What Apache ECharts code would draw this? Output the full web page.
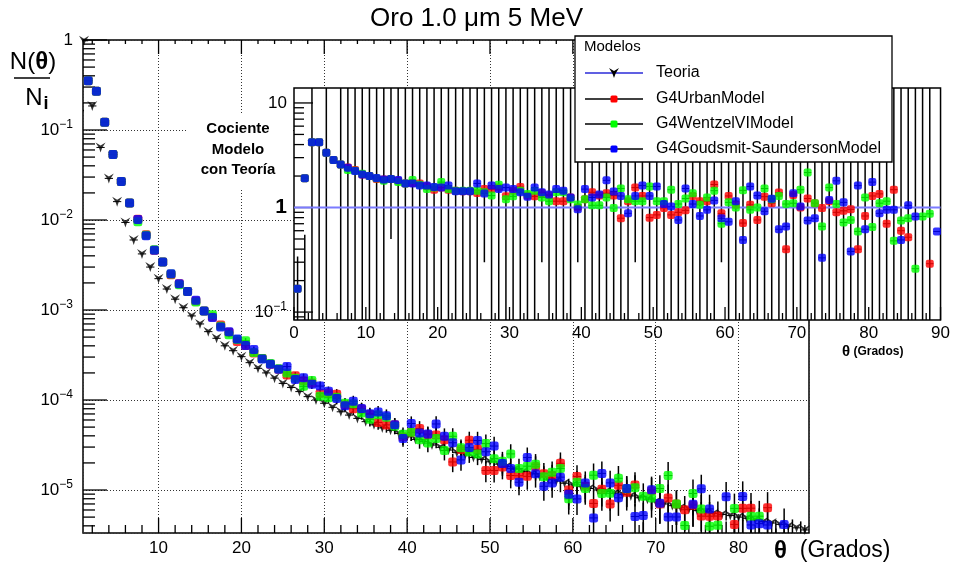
<!DOCTYPE html>
<html>
<head>
<meta charset="utf-8">
<script src="https://cdn.jsdelivr.net/npm/echarts@6/dist/echarts.min.js"></script>
<style>
html,body{margin:0;padding:0;background:#fff;}
#chart{width:953px;height:565px;}
</style>
</head>
<body>
<div id="chart"></div>
<script>
// Angular distribution of 5 MeV electrons after 1.0 μm of gold:
// theory vs. three Geant4 multiple-scattering models, plus model/theory ratio.
const FONT = '"Liberation Sans", Arial, Helvetica, sans-serif';

// Theory points (angle in degrees, N(θ)/N_i)
const theoryAngles = [1,2,3,4,5,6,7,8,9,10,11,12,13,14,15,16,17,18,19,20,
  21,22,23,24,25,26,27,28,29,30,31,32,33,34,35,36,37,38,39,40,
  41,42,43,44,45,46,47,48,49,50,51,52,53,54,55,56,57,58,59,60,
  61,62,63,64,65,66,67,68,69,70,71,72,73,74,75,76,77,78,79,80,
  81,82,83,84,85,86,87,88];
const theoryValues = [0.98,0.185,0.064,0.029,0.016,0.0094,0.006,0.0042,0.003,0.00223,
  0.00171,0.00132,0.00106,8.6e-4,7.0e-4,5.75e-4,4.85e-4,4.0e-4,3.53e-4,3.03e-4,
  2.6e-4,2.25e-4,2.0e-4,1.75e-4,1.53e-4,1.38e-4,1.24e-4,1.09e-4,1.0e-4,9.2e-5,
  8.3e-5,7.4e-5,6.8e-5,6.25e-5,5.75e-5,5.3e-5,4.9e-5,4.6e-5,4.25e-5,3.9e-5,
  3.65e-5,3.45e-5,3.16e-5,2.98e-5,2.78e-5,2.6e-5,2.45e-5,2.3e-5,2.19e-5,2.06e-5,
  1.94e-5,1.82e-5,1.7e-5,1.6e-5,1.51e-5,1.41e-5,1.32e-5,1.26e-5,1.19e-5,1.14e-5,
  1.09e-5,1.04e-5,1.0e-5,9.6e-6,9.2e-6,8.9e-6,8.6e-6,8.2e-6,7.9e-6,7.4e-6,
  7.0e-6,6.7e-6,6.35e-6,6.1e-6,5.9e-6,5.7e-6,5.5e-6,5.35e-6,5.2e-6,5.0e-6,
  4.85e-6,4.65e-6,4.45e-6,4.3e-6,4.15e-6,3.95e-6,3.8e-6,3.6e-6];

// 1° histogram bins
const binCenters = [0.5,1.5,2.5,3.5,4.5,5.5,6.5,7.5,8.5,9.5,10.5,11.5,12.5,13.5,14.5,15.5,16.5,17.5,18.5,19.5,
  20.5,21.5,22.5,23.5,24.5,25.5,26.5,27.5,28.5,29.5,30.5,31.5,32.5,33.5,34.5,35.5,36.5,37.5,38.5,39.5,
  40.5,41.5,42.5,43.5,44.5,45.5,46.5,47.5,48.5,49.5,50.5,51.5,52.5,53.5,54.5,55.5,56.5,57.5,58.5,59.5,
  60.5,61.5,62.5,63.5,64.5,65.5,66.5,67.5,68.5,69.5,70.5,71.5,72.5,73.5,74.5,75.5,76.5,77.5,78.5,79.5,
  80.5,81.5,82.5,83.5,84.5,85.5,86.5,87.5,88.5,89.5];

// Simulated N(θ)/N_i per bin (bins 0.5 … 87.5)
const urbanValues = [0.164,0.353,0.269,0.122,0.0534,0.0267,0.0155,0.0102,0.00684,0.00462,
  0.00342,0.00247,0.00196,0.00161,0.00126,9.78e-4,8.34e-4,6.8e-4,5.65e-4,4.48e-4,
  4.03e-4,3.33e-4,2.9e-4,2.5e-4,2.19e-4,1.9e-4,1.86e-4,1.64e-4,1.55e-4,1.18e-4,
  1.2e-4,1.16e-4,8.84e-5,8.0e-5,7.94e-5,6.89e-5,5.64e-5,5.29e-5,5.31e-5,3.9e-5,
  4.38e-5,4.83e-5,4.11e-5,4.08e-5,3.61e-5,2.05e-5,2.82e-5,3.57e-5,2.83e-5,1.65e-5,
  1.65e-5,1.8e-5,1.45e-5,1.44e-5,1.42e-5,1.82e-5,1.52e-5,1.45e-5,1.98e-5,1.0e-5,
  1.41e-5,1.1e-5,7.1e-6,1.02e-5,6.99e-6,1.13e-5,9.46e-6,1.14e-5,3.16e-6,9.77e-6,
  7.0e-6,8.17e-6,6.99e-6,6.04e-6,6.79e-6,5.13e-6,5.12e-6,5.14e-6,2.08e-6,4.15e-6,
  6.26e-6,6.28e-6,3.12e-6,6.36e-6,2.49e-6,2.05e-6,null,null];
const wentzelValues = [0.164,0.353,0.269,0.122,0.0534,0.0267,0.0155,0.00958,0.00675,0.00468,
  0.00342,0.00251,0.00191,0.00161,0.00123,9.78e-4,8.88e-4,6.6e-4,5.3e-4,4.7e-4,
  4.55e-4,3.38e-4,2.9e-4,2.54e-4,2.22e-4,2.0e-4,1.74e-4,1.42e-4,1.65e-4,1.1e-4,
  1.06e-4,1.07e-4,9.18e-5,9.06e-5,7.19e-5,6.1e-5,6.86e-5,6.44e-5,5.1e-5,4.17e-5,
  4.38e-5,3.62e-5,3.32e-5,3.73e-5,2.75e-5,3.95e-5,2.94e-5,2.65e-5,2.52e-5,3.28e-5,
  2.23e-5,2.09e-5,2.52e-5,1.73e-5,1.84e-5,1.93e-5,1.4e-5,1.58e-5,1.73e-5,7.98e-6,
  1.22e-5,1.04e-5,1.46e-5,9.12e-6,9.2e-6,1.35e-5,1.03e-5,1.06e-5,8.53e-6,8.14e-6,
  1.04e-5,1.45e-5,6.99e-6,4.03e-6,9.15e-6,6.16e-6,3.96e-6,4.07e-6,3.07e-6,6.25e-6,
  3.15e-6,5.12e-6,5.12e-6,2.06e-6,3.11e-6,3.12e-6,1.0e-6,2.95e-6];
const goudsmitValues = [0.164,0.353,0.269,0.122,0.0534,0.0267,0.0155,0.0101,0.00669,0.00462,
  0.00342,0.00253,0.00196,0.00161,0.00128,9.78e-4,8.25e-4,6.48e-4,5.72e-4,4.76e-4,
  4.03e-4,3.65e-4,2.86e-4,2.5e-4,2.19e-4,2.35e-4,1.69e-4,1.77e-4,1.5e-4,1.43e-4,
  1.25e-4,1.04e-4,8.64e-5,9.69e-5,8.05e-5,7.05e-5,7.35e-5,6.67e-5,5.31e-5,3.74e-5,
  5.48e-5,4.31e-5,4.2e-5,5.42e-5,3.95e-5,3.35e-5,2.16e-5,2.97e-5,3.55e-5,2.66e-5,
  3.08e-5,1.97e-5,1.73e-5,1.22e-5,2.3e-5,1.52e-5,1.1e-5,1.2e-5,1.39e-5,9.0e-6,
  7.96e-6,1.2e-5,4.9e-6,1.53e-5,1.2e-5,8.19e-6,1.04e-5,5.08e-6,5.21e-6,1.01e-5,
  7.14e-6,5.03e-6,5.02e-6,2.0e-6,6.96e-6,1.03e-5,6.16e-6,2.03e-6,8.42e-6,3.1e-6,
  8.49e-6,4.09e-6,4.23e-6,4.09e-6,2.03e-6,4.15e-6,3.12e-6,null];
// Relative statistical uncertainty per bin (bins 0.5 … 87.5)
const relErrors = [0.005,0.005,0.006,0.008,0.01,0.013,0.016,0.019,0.022,0.025,
  0.028,0.032,0.036,0.04,0.044,0.048,0.052,0.056,0.06,0.065,
  0.07,0.075,0.08,0.085,0.09,0.095,0.1,0.11,0.115,0.12,
  0.13,0.14,0.145,0.15,0.16,0.165,0.17,0.18,0.185,0.19,
  0.2,0.205,0.21,0.22,0.225,0.23,0.24,0.245,0.25,0.26,
  0.265,0.27,0.28,0.285,0.29,0.3,0.31,0.315,0.32,0.33,
  0.335,0.34,0.35,0.355,0.36,0.37,0.375,0.38,0.39,0.395,
  0.4,0.41,0.415,0.42,0.43,0.435,0.44,0.45,0.455,0.46,
  0.47,0.475,0.48,0.49,0.5,0.5,0.51,0.52];

// Model / theory ratio per bin (bins 0.5 … 89.5)
const urbanRatio = [0.167,1.91,4.2,4.2,3.34,2.84,2.58,2.42,2.28,2.07,
  2.0,1.87,1.85,1.87,1.80,1.70,1.72,1.70,1.60,1.48,
  1.55,1.48,1.45,1.43,1.43,1.38,1.50,1.50,1.55,1.28,
  1.45,1.57,1.30,1.28,1.38,1.30,1.15,1.15,1.25,1.0,
  1.2,1.4,1.30,1.37,1.30,0.79,1.15,1.55,1.29,0.80,
  0.85,0.99,0.85,0.90,0.94,1.29,1.15,1.15,1.66,0.88,
  1.29,1.06,0.71,1.06,0.76,1.27,1.10,1.39,0.40,1.32,
  1.0,1.22,1.1,0.99,1.15,0.90,0.93,0.96,0.40,0.83,
  1.29,1.35,0.70,1.48,0.6,0.52,null,null,0.29,null];
const wentzelRatio = [0.167,1.91,4.2,4.2,3.34,2.84,2.58,2.28,2.25,2.1,
  2.0,1.90,1.80,1.87,1.75,1.70,1.83,1.65,1.50,1.55,
  1.75,1.50,1.45,1.45,1.45,1.45,1.40,1.30,1.65,1.20,
  1.28,1.45,1.35,1.45,1.25,1.15,1.40,1.40,1.20,1.07,
  1.20,1.05,1.05,1.25,0.99,1.52,1.20,1.15,1.15,1.59,
  1.15,1.15,1.48,1.08,1.22,1.37,1.06,1.25,1.45,0.70,
  1.12,1.0,1.46,0.95,1.0,1.52,1.2,1.29,1.08,1.10,
  1.48,2.16,1.10,0.66,1.55,1.08,0.72,0.76,0.59,1.25,
  0.65,1.1,1.15,0.48,0.75,0.79,0.26,0.82,0.87,null];
const goudsmitRatio = [0.167,1.91,4.2,4.2,3.34,2.84,2.58,2.4,2.23,2.07,
  2.0,1.92,1.85,1.87,1.83,1.70,1.70,1.62,1.62,1.57,
  1.55,1.62,1.43,1.43,1.43,1.70,1.36,1.62,1.50,1.55,
  1.50,1.40,1.27,1.55,1.40,1.33,1.50,1.45,1.25,0.96,
  1.50,1.25,1.33,1.82,1.42,1.29,0.88,1.29,1.62,1.29,
  1.59,1.08,1.02,0.76,1.52,1.08,0.83,0.95,1.17,0.79,
  0.73,1.15,0.49,1.59,1.30,0.92,1.21,0.62,0.66,1.37,
  1.02,0.75,0.79,0.33,1.18,1.80,1.12,0.38,1.62,0.62,
  1.75,0.88,0.95,0.95,0.49,1.05,0.82,null,null,0.59];
// Theory / theory reference level across the ratio panel
const theoryRatioAngles = [0, 90];
const theoryRatio = [1, 1];
// Ratio uncertainty band ends per bin (most run off the plotted range)
const ratioBarLow = [0.01,0.01,0.01,0.01,0.01,null,0.01,0.01,0.01,0.01,
  0.01,0.01,0.01,0.5,0.01,0.01,0.01,0.01,0.01,0.01,
  0.01,0.01,0.01,0.01,0.01,0.01,0.3,0.01,0.01,0.01,
  0.01,0.01,0.01,0.01,0.3,0.01,0.01,0.01,0.01,0.3,
  0.01,0.01,0.01,0.01,0.01,0.01,0.01,0.3,0.01,0.01,
  0.01,0.01,0.01,0.01,0.01,0.01,0.01,0.01,0.01,0.3,
  0.01,0.01,0.01,0.01,0.01,0.01,0.01,0.01,0.01,0.01,
  0.01,0.01,0.01,0.01,0.01,0.01,0.01,0.01,0.01,0.01,
  0.01,0.01,0.01,0.01,0.01,0.01,0.01,0.01,0.01,null];
const ratioBarHigh = [0.34,0.55,100,4.2,100,null,100,100,100,100,
  100,100,100,100,100,100,100,100,100,100,
  100,100,100,100,100,100,100,100,100,100,
  100,100,100,100,100,100,100,100,100,100,
  100,100,100,100,100,100,100,100,100,100,
  100,100,100,100,100,100,100,100,100,100,
  100,100,100,100,100,100,100,100,100,100,
  100,100,100,100,100,100,100,100,100,100,
  100,100,100,100,100,100,100,100,100,null];

const legendNames = ['Teoria', 'G4UrbanModel', 'G4WentzelVIModel', 'G4Goudsmit-SaundersonModel'];
const seriesColors = ['#000000', '#ff0000', '#00ff00', '#0000ff'];

// Axis ranges and tick values
const mainX = [0.88, 88.5], mainY = [3.33e-6, 1];
const insetX = [0, 90], insetY = [0.084, 13.9];
const mainXMajor = [10, 20, 30, 40, 50, 60, 70, 80];
const insetXMajor = [0, 10, 20, 30, 40, 50, 60, 70, 80, 90];

const STAR = 'path://M0,0L5,3L10,0L6.6,5.4L5,10L3.4,5.4Z';

function evenMinorTicks(lo, hi) {
  const out = [];
  for (let v = Math.ceil(lo / 2) * 2; v <= hi; v += 2) if (v % 10 !== 0) out.push(v);
  return out;
}
function logMinorTicks(lo, hi) {
  const out = [];
  for (let e = Math.floor(Math.log10(lo)); e <= Math.ceil(Math.log10(hi)); e++)
    for (let k = 2; k <= 9; k++) { const v = k * Math.pow(10, e); if (v > lo && v < hi) out.push(v); }
  return out;
}
function logMajorTicks(lo, hi) {
  const out = [];
  for (let e = Math.ceil(Math.log10(lo)); e <= Math.floor(Math.log10(hi)); e++) out.push(Math.pow(10, e));
  return out;
}

// tick item: [x, y, direction (0 right, 1 up, 2 down), length]
const mainTicks = [];
logMajorTicks(mainY[0], mainY[1]).forEach(v => mainTicks.push([mainX[0], v, 0, 24]));
logMinorTicks(mainY[0], mainY[1]).forEach(v => mainTicks.push([mainX[0], v, 0, 12]));
mainXMajor.forEach(v => { mainTicks.push([v, mainY[0], 1, 15]); mainTicks.push([v, mainY[1], 2, 14]); });
evenMinorTicks(mainX[0], mainX[1]).forEach(v => { mainTicks.push([v, mainY[0], 1, 8]); mainTicks.push([v, mainY[1], 2, 4]); });

const insetTicks = [];
logMajorTicks(insetY[0], insetY[1]).forEach(v => insetTicks.push([insetX[0], v, 0, 19]));
logMinorTicks(insetY[0], insetY[1]).forEach(v => insetTicks.push([insetX[0], v, 0, 10]));
insetXMajor.forEach(v => insetTicks.push([v, insetY[0], 1, 13]));
evenMinorTicks(insetX[0], insetX[1]).forEach(v => insetTicks.push([v, insetY[0], 1, 7]));

function tickItem(params, api) {
  const p = api.coord([api.value(0), api.value(1)]);
  const dir = api.value(2), len = api.value(3);
  const dx = dir === 0 ? len : 0;
  const dy = dir === 1 ? -len : (dir === 2 ? len : 0);
  return { type: 'line', shape: { x1: p[0], y1: p[1], x2: p[0] + dx, y2: p[1] + dy },
           style: { stroke: '#000', lineWidth: 1.3 } };
}
function errorBarItem(params, api) {
  const x = api.value(0), v = api.value(1), e = api.value(2);
  const l = api.coord([x - 0.5, v]), r = api.coord([x + 0.5, v]);
  const children = [{ type: 'line', shape: { x1: l[0], y1: l[1], x2: r[0], y2: r[1] },
                      style: { stroke: '#000', lineWidth: 1 } }];
  if (e > 0) {
    const lo = api.coord([x, v * (1 - e)]), hi = api.coord([x, v * (1 + e)]);
    children.push({ type: 'line', shape: { x1: lo[0], y1: lo[1], x2: hi[0], y2: hi[1] },
                    style: { stroke: '#000', lineWidth: 1.5 } });
  }
  return { type: 'group', children };
}
function bandItem(params, api) {
  const x = api.value(0);
  const a = api.coord([x, api.value(1)]), b = api.coord([x, api.value(2)]);
  return { type: 'line', shape: { x1: a[0], y1: a[1], x2: b[0], y2: b[1] },
           style: { stroke: '#000', lineWidth: 1.5 } };
}

function pairs(xs, ys) {
  const out = [];
  ys.forEach((y, i) => { if (y != null && i < xs.length) out.push([xs[i], y]); });
  return out;
}
function withErr(xs, ys, errs) {
  const out = [];
  ys.forEach((y, i) => { if (y != null) out.push([xs[i], y, errs ? errs[i] : 0]); });
  return out;
}

function logLabel(v) {
  const e = Math.round(Math.log10(v));
  if (e === 0) return '{b|1}';
  if (e === 1) return '{b|10}';
  return '{b|10}{s|\u2212' + Math.abs(e) + '}';
}
function insetLogLabel(v) {
  const e = Math.round(Math.log10(v));
  if (e === 0) return '{one|1}';
  return logLabel(v);
}
const labelRich = {
  b: { fontSize: 17, fontFamily: FONT, color: '#000', lineHeight: 22 },
  s: { fontSize: 12, fontFamily: FONT, color: '#000', lineHeight: 12, verticalAlign: 'top' },
  one: { fontSize: 21, fontWeight: 'bold', fontFamily: FONT, color: '#000', lineHeight: 22 }
};

const chart = echarts.init(document.getElementById('chart'), null, { renderer: 'canvas' });

const mainModels = [urbanValues, wentzelValues, goudsmitValues];
const ratioModels = [urbanRatio, wentzelRatio, goudsmitRatio];

const series = [];
// main panel: theory
series.push({ type: 'custom', xAxisIndex: 0, yAxisIndex: 0, clip: true, z: 2,
  data: withErr(theoryAngles, theoryValues, null), encode: { x: 0, y: 1 }, renderItem: errorBarItem });
series.push({ type: 'scatter', name: legendNames[0], xAxisIndex: 0, yAxisIndex: 0, z: 2,
  symbol: STAR, symbolSize: [10, 10], itemStyle: { color: '#000' },
  data: pairs(theoryAngles, theoryValues) });
// main panel: models
mainModels.forEach((vals, k) => {
  series.push({ type: 'custom', xAxisIndex: 0, yAxisIndex: 0, clip: true, z: 2,
    data: withErr(binCenters, vals, relErrors), encode: { x: 0, y: 1 }, renderItem: errorBarItem });
  series.push({ type: 'scatter', name: legendNames[k + 1], xAxisIndex: 0, yAxisIndex: 0, z: 2,
    symbol: 'roundRect', symbolSize: 9, itemStyle: { color: seriesColors[k + 1] },
    data: pairs(binCenters, vals) });
});
series.push({ type: 'custom', xAxisIndex: 0, yAxisIndex: 0, clip: false, z: 2, silent: true,
  data: mainTicks, encode: { x: 0, y: 1 }, renderItem: tickItem });

// inset: ratio uncertainty bands
const bands = [];
binCenters.forEach((x, i) => { if (ratioBarLow[i] != null) bands.push([x, ratioBarLow[i], ratioBarHigh[i]]); });
series.push({ type: 'custom', xAxisIndex: 1, yAxisIndex: 1, clip: true, z: 5,
  data: bands, encode: { x: 0, y: [1, 2] }, renderItem: bandItem });
// inset: theory reference level
series.push({ type: 'line', xAxisIndex: 1, yAxisIndex: 1, z: 5, symbol: 'none', silent: true,
  lineStyle: { color: '#7b7bff', width: 2.2 }, data: pairs(theoryRatioAngles, theoryRatio) });
ratioModels.forEach((vals, k) => {
  series.push({ type: 'custom', xAxisIndex: 1, yAxisIndex: 1, clip: true, z: 5,
    data: withErr(binCenters, vals, null), encode: { x: 0, y: 1 }, renderItem: errorBarItem });
  series.push({ type: 'scatter', xAxisIndex: 1, yAxisIndex: 1, z: 5,
    symbol: 'roundRect', symbolSize: 8, itemStyle: { color: seriesColors[k + 1] },
    data: pairs(binCenters, vals) });
});
series.push({ type: 'custom', xAxisIndex: 1, yAxisIndex: 1, clip: false, z: 5, silent: true,
  data: insetTicks, encode: { x: 0, y: 1 }, renderItem: tickItem });

// legend box
const LZ = 30;
const legendRows = [73, 99, 124, 149];
const legendGraphics = [
  { type: 'rect', z: LZ, shape: { x: 575, y: 36, width: 317, height: 126 },
    style: { fill: '#fff', stroke: '#000', lineWidth: 1.3 } },
  { type: 'text', z: LZ, x: 584, y: 47, style: { text: 'Modelos', font: '15px ' + FONT, fill: '#000', textVerticalAlign: 'middle' } }
];
legendNames.forEach((name, i) => {
  const y = legendRows[i];
  legendGraphics.push({ type: 'line', z: LZ, shape: { x1: 585, y1: y, x2: 643, y2: y },
    style: { stroke: i === 0 ? '#2b2bd8' : '#000', lineWidth: 1.3 } });
  if (i === 0) {
    legendGraphics.push({ type: 'polygon', z: LZ, shape: { points: [[609, y - 5], [614, y - 2], [619, y - 5], [615.6, y + 0.4], [614, y + 5], [612.4, y + 0.4]] },
      style: { fill: '#000' } });
  } else {
    legendGraphics.push({ type: 'rect', z: LZ, shape: { x: 610.5, y: y - 3.5, width: 7, height: 7, r: 1.5 },
      style: { fill: seriesColors[i] } });
  }
  legendGraphics.push({ type: 'text', z: LZ, x: 656, y: y, style: { text: name, font: '16px ' + FONT, fill: '#000', textVerticalAlign: 'middle' } });
});

const CZ = 25;
chart.setOption({
  animation: false,
  backgroundColor: '#fff',
  title: { text: 'Oro 1.0 μm 5 MeV', left: 'center', top: 1,
    textStyle: { fontSize: 26, fontWeight: 'normal', color: '#000', fontFamily: FONT } },
  grid: [
    { left: 83, top: 40, width: 726, height: 493, show: true, backgroundColor: 'transparent',
      borderColor: '#000', borderWidth: 1.5, z: 0 },
    { left: 294, top: 88, width: 653, height: 232, show: true, backgroundColor: '#fff',
      borderColor: '#000', borderWidth: 1.5, z: 3 }
  ],
  xAxis: [
    { type: 'value', gridIndex: 0, min: mainX[0], max: mainX[1], splitNumber: 9, z: 0,
      axisLine: { show: false }, axisTick: { show: false },
      axisLabel: { margin: 7, fontSize: 17, color: '#000', fontFamily: FONT, showMinLabel: false, showMaxLabel: false },
      splitLine: { show: true, lineStyle: { color: '#333', width: 1, type: [1, 2] } } },
    { type: 'value', gridIndex: 1, min: insetX[0], max: insetX[1], interval: 10, z: 4,
      axisLine: { show: false }, axisTick: { show: false },
      axisLabel: { margin: 5, fontSize: 17, color: '#000', fontFamily: FONT },
      splitLine: { show: false } }
  ],
  yAxis: [
    { type: 'log', logBase: 10, gridIndex: 0, min: mainY[0], max: mainY[1], splitNumber: 5, z: 0,
      axisLine: { show: false }, axisTick: { show: false }, minorTick: { show: false },
      axisLabel: { margin: 10, formatter: logLabel, rich: labelRich, showMinLabel: false },
      splitLine: { show: true, lineStyle: { color: '#333', width: 1, type: [1, 2] } } },
    { type: 'log', logBase: 10, gridIndex: 1, min: insetY[0], max: insetY[1], splitNumber: 2, z: 4,
      axisLine: { show: false }, axisTick: { show: false }, minorTick: { show: false },
      axisLabel: { margin: 7, formatter: insetLogLabel, rich: labelRich,
        showMinLabel: false, showMaxLabel: false },
      splitLine: { show: false } }
  ],
  series: series,
  graphic: [
    // y-axis title of the main panel
    { type: 'text', z: CZ, x: 33, y: 62, style: { text: '{n|N(}{t|θ}{n|)}', textAlign: 'center', textVerticalAlign: 'middle',
      rich: { n: { fontSize: 24, fontFamily: FONT, color: '#000' }, t: { fontSize: 24, fontFamily: FONT, fontWeight: 'bold', color: '#000' } } } },
    { type: 'line', z: CZ, shape: { x1: 14, y1: 78, x2: 50, y2: 78 }, style: { stroke: '#000', lineWidth: 1.5 } },
    { type: 'text', z: CZ, x: 34, y: 98, style: { text: 'N', font: '24px ' + FONT, fill: '#000', textAlign: 'center', textVerticalAlign: 'middle' } },
    { type: 'text', z: CZ, x: 46, y: 104, style: { text: 'i', font: 'bold 18px ' + FONT, fill: '#000', textAlign: 'center', textVerticalAlign: 'middle' } },
    // x-axis title of the main panel
    { type: 'text', z: CZ, x: 774, y: 551, style: { text: '{t|θ}{n|  (Grados)}', textVerticalAlign: 'middle',
      rich: { t: { fontSize: 24, fontWeight: 'bold', fontFamily: FONT, color: '#000' }, n: { fontSize: 23, fontFamily: FONT, color: '#000' } } } },
    // ratio panel titles
    { type: 'rect', z: CZ, shape: { x: 188, y: 113, width: 104, height: 77 }, style: { fill: '#fff' } },
    { type: 'text', z: CZ, x: 238, y: 129, style: { text: 'Cociente', font: 'bold 15px ' + FONT, fill: '#000', textAlign: 'center', textVerticalAlign: 'middle' } },
    { type: 'text', z: CZ, x: 238, y: 150, style: { text: 'Modelo', font: 'bold 15px ' + FONT, fill: '#000', textAlign: 'center', textVerticalAlign: 'middle' } },
    { type: 'text', z: CZ, x: 238, y: 170, style: { text: 'con Teoría', font: 'bold 15px ' + FONT, fill: '#000', textAlign: 'center', textVerticalAlign: 'middle' } },
    { type: 'text', z: CZ, x: 842, y: 352, style: { text: '{t|θ}{n| (Grados)}', textVerticalAlign: 'middle',
      rich: { t: { fontSize: 15, fontWeight: 'bold', fontFamily: FONT, color: '#000' }, n: { fontSize: 12, fontWeight: 'bold', fontFamily: FONT, color: '#000' } } } }
  ].concat(legendGraphics)
});
</script>
</body>
</html>
